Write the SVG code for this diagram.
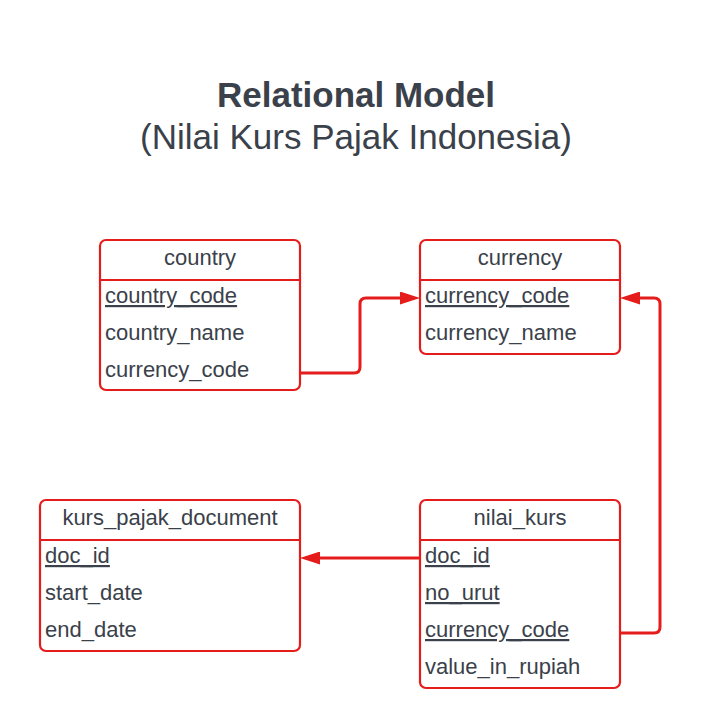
<svg xmlns="http://www.w3.org/2000/svg" width="701" height="728" viewBox="0 0 701 728">
<style>
.box{fill:#ffffff;stroke:#e51c1c;stroke-width:2.2}
.sep{stroke:#e51c1c;stroke-width:2.2}
.t{font-family:"Liberation Sans",Arial,sans-serif;font-size:22px;fill:#3a414a}
.h{text-anchor:middle}
.pk{text-decoration:underline}
.title{font-family:"Liberation Sans",Arial,sans-serif;font-size:35px;fill:#3a414a;text-anchor:middle}
.conn{fill:none;stroke:#e51c1c;stroke-width:3;marker-end:url(#arr)}
</style>
<defs>
<marker id="arr" viewBox="0 0 20 13" refX="10" refY="6.5" markerWidth="20" markerHeight="13" markerUnits="userSpaceOnUse" orient="auto">
<path d="M0,0 L20,6.5 L0,13 z" fill="#e51c1c"/>
</marker>
</defs>
<rect width="701" height="728" fill="#ffffff"/>
<g id="title">
<text class="title" x="356" y="107" font-weight="bold">Relational Model</text>
<text class="title" x="356" y="149">(Nilai Kurs Pajak Indonesia)</text>
</g>
<g id="country">
<rect class="box" x="100" y="240" width="200" height="150" rx="6"/>
<line class="sep" x1="100" y1="280" x2="300" y2="280"/>
<text class="t h" x="200" y="265">country</text>
<text class="t pk" x="105" y="303">country_code</text>
<text class="t" x="105" y="340">country_name</text>
<text class="t" x="105" y="377">currency_code</text>
</g>
<g id="currency">
<rect class="box" x="420" y="240" width="200" height="114" rx="6"/>
<line class="sep" x1="420" y1="280" x2="620" y2="280"/>
<text class="t h" x="520" y="265">currency</text>
<text class="t pk" x="425" y="303">currency_code</text>
<text class="t" x="425" y="340">currency_name</text>
</g>
<g id="kurs_pajak_document">
<rect class="box" x="40" y="500" width="260" height="151" rx="6"/>
<line class="sep" x1="40" y1="540" x2="300" y2="540"/>
<text class="t h" x="170" y="525">kurs_pajak_document</text>
<text class="t pk" x="45" y="563">doc_id</text>
<text class="t" x="45" y="600">start_date</text>
<text class="t" x="45" y="637">end_date</text>
</g>
<g id="nilai_kurs">
<rect class="box" x="420" y="500" width="200" height="188" rx="6"/>
<line class="sep" x1="420" y1="540" x2="620" y2="540"/>
<text class="t h" x="520" y="525">nilai_kurs</text>
<text class="t pk" x="425" y="563">doc_id</text>
<text class="t pk" x="425" y="600">no_urut</text>
<text class="t pk" x="425" y="637">currency_code</text>
<text class="t" x="425" y="674">value_in_rupiah</text>
</g>
<g id="connectors">
<path class="conn" d="M300,373 H354 Q360,373 360,367 V304 Q360,298 366,298 H410"/>
<path class="conn" d="M420,558 H310"/>
<path class="conn" d="M620,633 H654 Q660,633 660,627 V304 Q660,298 654,298 H630"/>
</g>
</svg>
